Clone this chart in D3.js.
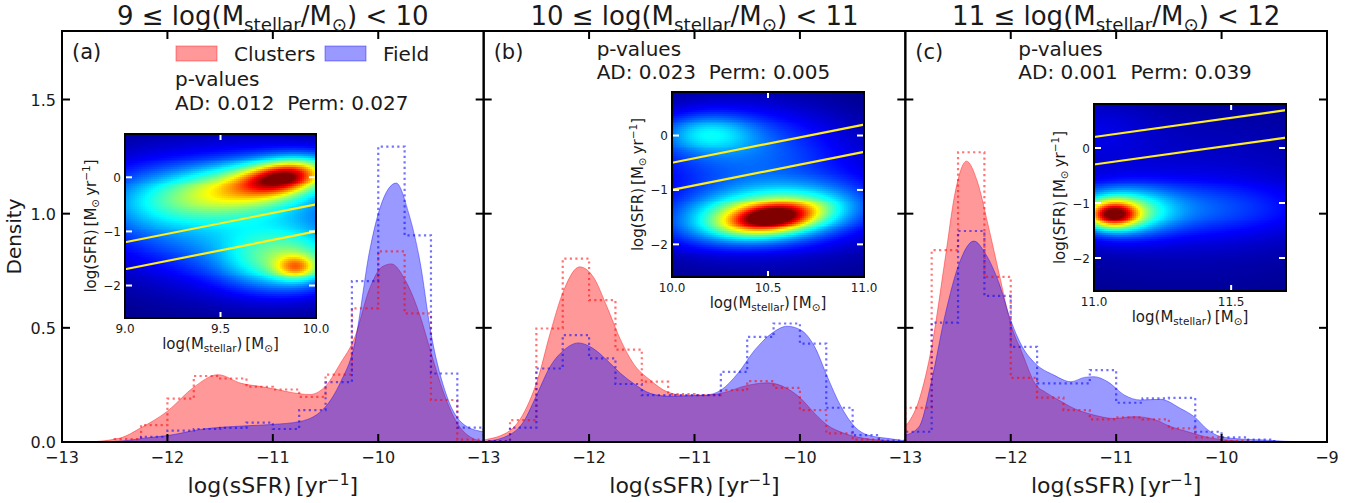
<!DOCTYPE html>
<html>
<head>
<meta charset="utf-8">
<script src="https://cdn.jsdelivr.net/npm/d3@7"></script>
<style>
  body { margin: 0; background: #fff; }
  text { font-family: "DejaVu Sans", sans-serif; fill: #1a1a1a; }
</style>
</head>
<body>
<svg id="chart" width="1365" height="503"></svg>
<script>
// ---------- data ----------
const panelLetters = ["(a)", "(b)", "(c)"];
const massBinLow = [9, 10, 11];
const massBinHigh = [10, 11, 12];
const pValueAD = ["0.012", "0.023", "0.001"];
const pValuePerm = ["0.027", "0.005", "0.039"];
const seriesNames = ["Clusters", "Field"];
const seriesColors = ["red", "blue"];

const sSFRDomain = [-13, -9];
const densityDomain = [0, 1.8];
const sSFRTicks = [-13, -12, -11, -10, -9];
const densityTicks = [0, 0.5, 1.0, 1.5];

// normalised histograms, 0.25 dex bins starting at log sSFR = -13
const histStart = -13, histStep = 0.25;
const histClustersA = [0, 0, 0.013, 0.074, 0.19, 0.289, 0.278, 0.242, 0.23, 0.198, 0.295, 0.585, 0.835, 0.563, 0.184, 0.01];
const histFieldA    = [0, 0, 0, 0.023, 0.05, 0.057, 0.062, 0.085, 0.057, 0.14, 0.262, 0.705, 1.294, 0.905, 0.30, 0.063];
const histClustersB = [0.004, 0.096, 0.497, 0.803, 0.621, 0.405, 0.264, 0.21, 0.205, 0.227, 0.267, 0.237, 0.14, 0.038, 0.01, 0];
const histFieldB    = [0.004, 0.063, 0.322, 0.468, 0.366, 0.254, 0.205, 0.205, 0.205, 0.307, 0.46, 0.519, 0.431, 0.15, 0.03, 0.006];
const histClustersC = [0.15, 0.84, 1.269, 0.723, 0.281, 0.194, 0.14, 0.099, 0.108, 0.099, 0.06, 0.02, 0.005, 0, 0, 0];
const histFieldC    = [0.045, 0.523, 0.924, 0.64, 0.417, 0.257, 0.257, 0.315, 0.172, 0.191, 0.193, 0.045, 0.02, 0.01, 0, 0];

// kernel density estimates [log sSFR, density]
const kdeClustersA = [[-12.75,0],[-12.45,0.017],[-12.26,0.06],[-12.0,0.135],[-11.75,0.24],[-11.52,0.295],[-11.3,0.257],[-11.1,0.242],[-10.96,0.23],[-10.8,0.215],[-10.65,0.208],[-10.49,0.25],[-10.36,0.344],[-10.23,0.45],[-10.075,0.68],[-9.965,0.767],[-9.875,0.78],[-9.743,0.708],[-9.6,0.548],[-9.505,0.40],[-9.378,0.213],[-9.25,0.082],[-9.12,0.02],[-9.0,0.003]];
const kdeFieldA    = [[-12.6,0],[-12.4,0.006],[-12.2,0.018],[-12.0,0.028],[-11.69,0.055],[-11.25,0.071],[-11.0,0.077],[-10.74,0.09],[-10.49,0.16],[-10.36,0.26],[-10.23,0.417],[-10.075,0.854],[-9.98,1.03],[-9.83,1.134],[-9.71,1.0],[-9.6,0.78],[-9.505,0.49],[-9.347,0.198],[-9.157,0.067],[-9.0,0.045]];
const kdeClustersB = [[-13,0.009],[-12.75,0.05],[-12.59,0.154],[-12.49,0.271],[-12.37,0.475],[-12.24,0.665],[-12.09,0.767],[-11.96,0.723],[-11.83,0.592],[-11.70,0.446],[-11.58,0.344],[-11.42,0.271],[-11.26,0.22],[-11.1,0.205],[-10.9,0.205],[-10.75,0.213],[-10.49,0.249],[-10.30,0.259],[-10.12,0.234],[-9.99,0.19],[-9.86,0.125],[-9.74,0.074],[-9.58,0.038],[-9.39,0.016],[-9.17,0.006],[-9.0,0.002]];
const kdeFieldB    = [[-13,0.002],[-12.81,0.02],[-12.62,0.09],[-12.49,0.213],[-12.37,0.33],[-12.24,0.402],[-12.10,0.434],[-11.96,0.409],[-11.83,0.358],[-11.70,0.3],[-11.58,0.257],[-11.42,0.213],[-11.26,0.201],[-11.1,0.202],[-10.9,0.205],[-10.75,0.227],[-10.59,0.30],[-10.43,0.402],[-10.27,0.475],[-10.12,0.507],[-9.99,0.49],[-9.86,0.417],[-9.74,0.286],[-9.61,0.155],[-9.48,0.067],[-9.36,0.031],[-9.17,0.016],[-9.0,0.005]];
const kdeClustersC = [[-13,0.067],[-12.87,0.184],[-12.75,0.417],[-12.62,0.81],[-12.53,1.087],[-12.42,1.23],[-12.32,1.145],[-12.21,0.941],[-12.11,0.737],[-12.0,0.518],[-11.89,0.388],[-11.77,0.256],[-11.66,0.215],[-11.55,0.185],[-11.40,0.147],[-11.21,0.118],[-11.02,0.103],[-10.83,0.111],[-10.64,0.099],[-10.48,0.067],[-10.32,0.045],[-10.13,0.02],[-9.94,0.008],[-9.7,0.002],[-9.0,0]];
const kdeFieldC    = [[-13,0.03],[-12.87,0.067],[-12.75,0.271],[-12.62,0.562],[-12.49,0.781],[-12.35,0.88],[-12.24,0.825],[-12.11,0.694],[-12.0,0.533],[-11.89,0.417],[-11.77,0.345],[-11.59,0.293],[-11.43,0.264],[-11.30,0.283],[-11.21,0.286],[-11.08,0.264],[-10.92,0.205],[-10.77,0.184],[-10.58,0.187],[-10.39,0.147],[-10.26,0.111],[-10.13,0.053],[-10.01,0.024],[-9.82,0.013],[-9.56,0.008],[-9.4,0.003],[-9.0,0]];

// inset: smoothed log M* - log SFR plane
const insetMassRange = [[9.0, 10.0], [10.0, 11.0], [11.0, 11.7]];
const insetMassTicks = [[9.0, 9.5, 10.0], [10.0, 10.5, 11.0], [11.0, 11.5]];
const insetSfrRange = [-2.6, 0.8];
const insetSfrTicks = [0, -1, -2];
const msSlope = 0.7;
const msIntercepts = [-7.5, -8.0];
// Gaussian components: [log M*, log SFR, sigma M, sigma SFR, correlation, weight]
const densityA = [
  [9.84, 0.03, 0.14, 0.21, 0.3, 0.55],
  [9.65, -0.15, 0.31, 0.34, 0.4, 0.42],
  [9.60, -0.75, 0.48, 0.85, 0.0, 0.30],
  [9.10, -0.40, 0.25, 0.50, 0.0, 0.12],
  [9.90, -1.65, 0.075, 0.15, 0.0, 0.33],
  [9.85, -1.55, 0.22, 0.38, 0.0, 0.33]
];
const densityB = [
  [10.52, -1.50, 0.15, 0.18, 0.3, 0.58],
  [10.50, -1.45, 0.30, 0.33, 0.25, 0.48],
  [10.50, -1.20, 0.50, 0.80, 0.0, 0.15],
  [10.18, 0.05, 0.17, 0.24, 0.0, 0.20],
  [10.35, -0.10, 0.38, 0.55, 0.0, 0.16]
];
const densityC = [
  [11.07, -1.20, 0.06, 0.16, 0.0, 0.60],
  [11.10, -1.15, 0.12, 0.28, 0.0, 0.33],
  [11.30, -1.10, 0.32, 0.35, 0.0, 0.15],
  [11.35, -0.80, 0.50, 1.20, 0.0, 0.08],
  [11.00, 0.35, 0.15, 0.40, 0.0, 0.06]
];

const hists = [[histClustersA, histFieldA], [histClustersB, histFieldB], [histClustersC, histFieldC]];
const kdes = [[kdeClustersA, kdeFieldA], [kdeClustersB, kdeFieldB], [kdeClustersC, kdeFieldC]];
const densities = [densityA, densityB, densityC];

// ---------- layout ----------
const plotLeft = 62, plotRight = 1327, plotTop = 31, plotBottom = 442;
const panelW = (plotRight - plotLeft) / 3;
const insetBoxes = [
  { x: 125, y: 134, w: 191, h: 184 },
  { x: 672, y: 92, w: 192, h: 185 },
  { x: 1094, y: 104, w: 192, h: 187 }
];
const gridN = 96;

const svg = d3.select("#chart");
const defs = svg.append("defs");

// matplotlib-style "jet" colour map
function jet(t) {
  const c = v => Math.max(0, Math.min(1, v));
  const r = c(Math.min(4 * t - 1.5, -4 * t + 4.5));
  const g = c(Math.min(4 * t - 0.5, -4 * t + 3.5));
  const b = c(Math.min(4 * t + 0.5, -4 * t + 2.5));
  return d3.rgb(r * 255, g * 255, b * 255).toString();
}
const heatColor = d3.scaleSequential(jet).domain([0, 1]).clamp(true);

function mixtureDensity(comps, m, s) {
  let v = 0;
  for (const [cx, cy, sx, sy, r, a] of comps) {
    const u = (m - cx) / sx, w = (s - cy) / sy;
    const q = (u * u - 2 * r * u * w + w * w) / (1 - r * r);
    v += a * Math.exp(-0.5 * q);
  }
  return v;
}

// text with sub/superscripts: parts = [[string, shift]] shift -1 sub, +1 sup
function richText(g, parts, size, attrs) {
  const t = g.append("text").attr("font-size", size);
  for (const k in attrs) t.attr(k, attrs[k]);
  let cur = 0;
  parts.forEach(([str, mode]) => {
    const fs = mode === 0 ? size : size * 0.7;
    const off = mode === -1 ? size * 0.22 : mode === 1 ? -size * 0.38 : 0;
    t.append("tspan").attr("font-size", fs).attr("dy", off - cur).text(str);
    cur = off;
  });
  return t;
}

const fmt1 = d3.format(".1f");
const fmtInt = d3.format("d");

const y = d3.scaleLinear().domain(densityDomain).range([plotBottom, plotTop]);

for (let k = 0; k < 3; k++) {
  const left = plotLeft + k * panelW;
  const x = d3.scaleLinear().domain(sSFRDomain).range([left, left + panelW]);
  const g = svg.append("g");

  const clipId = "clip" + k;
  defs.append("clipPath").attr("id", clipId)
    .append("rect").attr("x", left).attr("y", plotTop).attr("width", panelW).attr("height", plotBottom - plotTop);
  const plot = g.append("g").attr("clip-path", `url(#${clipId})`);

  // KDE fills: clusters first, field over it
  const area = d3.area().x(d => x(d[0])).y0(y(0)).y1(d => y(d[1])).curve(d3.curveMonotoneX);
  kdes[k].forEach((pts, i) => {
    plot.append("path").datum(pts).attr("d", area)
      .attr("fill", seriesColors[i]).attr("fill-opacity", 0.4)
      .attr("stroke", seriesColors[i]).attr("stroke-opacity", 0.4).attr("stroke-width", 1);
  });

  // dotted step histograms
  const line = d3.line().x(d => x(d[0])).y(d => y(d[1]));
  hists[k].forEach((h, i) => {
    const pts = [[histStart, 0]];
    h.forEach((v, j) => {
      const e0 = histStart + j * histStep, e1 = e0 + histStep;
      pts.push([e0, v], [e1, v]);
    });
    pts.push([histStart + h.length * histStep, 0]);
    plot.append("path").datum(pts).attr("d", line)
      .attr("fill", "none").attr("stroke", seriesColors[i]).attr("stroke-opacity", 0.55)
      .attr("stroke-width", 2.2).attr("stroke-dasharray", "2.2 3.3");
  });

  // ticks (inward, all four sides)
  const tickG = g.append("g").attr("stroke", "#000").attr("stroke-width", 2);
  sSFRTicks.filter(t => t > sSFRDomain[0] && t < sSFRDomain[1]).forEach(t => {
    tickG.append("line").attr("x1", x(t)).attr("x2", x(t)).attr("y1", plotBottom).attr("y2", plotBottom - 8);
    tickG.append("line").attr("x1", x(t)).attr("x2", x(t)).attr("y1", plotTop).attr("y2", plotTop + 8);
  });
  densityTicks.filter(t => t > densityDomain[0]).forEach(t => {
    tickG.append("line").attr("x1", left).attr("x2", left + 8).attr("y1", y(t)).attr("y2", y(t));
    tickG.append("line").attr("x1", left + panelW).attr("x2", left + panelW - 8).attr("y1", y(t)).attr("y2", y(t));
  });

  // frame
  g.append("rect").attr("x", left).attr("y", plotTop).attr("width", panelW).attr("height", plotBottom - plotTop)
    .attr("fill", "none").attr("stroke", "#000").attr("stroke-width", 2);

  // x tick labels
  sSFRTicks.filter(t => k === 2 || t < sSFRDomain[1]).forEach(t => {
    g.append("text").attr("x", x(t)).attr("y", plotBottom + 21).attr("text-anchor", "middle")
      .attr("font-size", 16).text(fmtInt(t));
  });
  // y tick labels on first panel
  if (k === 0) {
    densityTicks.forEach(t => {
      g.append("text").attr("x", left - 6).attr("y", y(t) + 6).attr("text-anchor", "end")
        .attr("font-size", 16).text(fmt1(t));
    });
    g.append("text").attr("transform", `translate(21,${(plotTop + plotBottom) / 2}) rotate(-90)`)
      .attr("text-anchor", "middle").attr("font-size", 20).text("Density");
  }

  // x axis label
  richText(g, [["log(sSFR)\u2009[yr", 0], ["\u22121", 1], ["]", 0]], 22,
    { x: left + panelW / 2, y: 493, "text-anchor": "middle" });

  // title
  richText(g, [[`${massBinLow[k]} \u2264 log(M`, 0], ["stellar", -1], ["/M", 0], ["\u2299", -1], [`) < ${massBinHigh[k]}`, 0]], 26,
    { x: left + panelW / 2, y: 25, "text-anchor": "middle" });

  // panel letter
  g.append("text").attr("x", left + 10).attr("y", 59).attr("font-size", 21).text(panelLetters[k]);

  // legend + p-values
  if (k === 0) {
    const lx = [176, 325];
    seriesNames.forEach((nm, i) => {
      g.append("rect").attr("x", lx[i]).attr("y", 46).attr("width", 41).attr("height", 15)
        .attr("fill", seriesColors[i]).attr("fill-opacity", 0.4)
        .attr("stroke", seriesColors[i]).attr("stroke-opacity", 0.4);
      g.append("text").attr("x", lx[i] + 58).attr("y", 61).attr("font-size", 20).text(nm);
    });
  }
  const px = k === 0 ? 175 : left + 113;
  g.append("text").attr("x", px).attr("y", k === 0 ? 86 : 56).attr("font-size", 20).text("p-values");
  g.append("text").attr("x", px).attr("y", k === 0 ? 110 : 79).attr("font-size", 20)
    .attr("xml:space", "preserve").style("white-space", "pre")
    .text(`AD: ${pValueAD[k]}  Perm: ${pValuePerm[k]}`);

  // ---------- inset ----------
  const box = insetBoxes[k];
  const mx = d3.scaleLinear().domain(insetMassRange[k]).range([box.x, box.x + box.w]);
  const sy = d3.scaleLinear().domain(insetSfrRange).range([box.y + box.h, box.y]);
  const ig = g.append("g");
  const [m0, m1] = insetMassRange[k];
  const [s0, s1] = insetSfrRange;
  const dm = (m1 - m0) / gridN, ds = (s1 - s0) / gridN;
  const cells = [];
  for (let i = 0; i < gridN; i++) {
    for (let j = 0; j < gridN; j++) {
      const m = m0 + (i + 0.5) * dm, s = s0 + (j + 0.5) * ds;
      cells.push({ m: m0 + i * dm, s: s0 + (j + 1) * ds, v: mixtureDensity(densities[k], m, s) });
    }
  }
  const cw = mx(m0 + dm) - mx(m0), ch = sy(s0) - sy(s0 + ds);
  ig.append("g").attr("shape-rendering", "crispEdges").selectAll("rect").data(cells).join("rect")
    .attr("x", d => mx(d.m)).attr("y", d => sy(d.s))
    .attr("width", cw + 0.6).attr("height", ch + 0.6)
    .attr("fill", d => heatColor(d.v));

  // main-sequence boundary lines
  const msLine = d3.line().x(d => mx(d[0])).y(d => sy(d[1]));
  msIntercepts.forEach(b => {
    ig.append("path").datum([[m0, msSlope * m0 + b], [m1, msSlope * m1 + b]]).attr("d", msLine)
      .attr("stroke", "#ffee1a").attr("stroke-width", 2.2).attr("fill", "none");
  });

  // white inward ticks
  const it = ig.append("g").attr("stroke", "#fff").attr("stroke-width", 2);
  insetMassTicks[k].filter(t => t > m0 + 1e-9 && t < m1 - 1e-9).forEach(t => {
    it.append("line").attr("x1", mx(t)).attr("x2", mx(t)).attr("y1", box.y + box.h).attr("y2", box.y + box.h - 6);
    it.append("line").attr("x1", mx(t)).attr("x2", mx(t)).attr("y1", box.y).attr("y2", box.y + 6);
  });
  insetSfrTicks.forEach(t => {
    it.append("line").attr("x1", box.x).attr("x2", box.x + 7).attr("y1", sy(t)).attr("y2", sy(t));
    it.append("line").attr("x1", box.x + box.w).attr("x2", box.x + box.w - 7).attr("y1", sy(t)).attr("y2", sy(t));
  });
  ig.append("rect").attr("x", box.x).attr("y", box.y).attr("width", box.w).attr("height", box.h)
    .attr("fill", "none").attr("stroke", "#000").attr("stroke-width", 2);

  insetMassTicks[k].forEach(t => {
    ig.append("text").attr("x", mx(t)).attr("y", box.y + box.h + 15).attr("text-anchor", "middle")
      .attr("font-size", 12).text(fmt1(t));
  });
  insetSfrTicks.forEach(t => {
    ig.append("text").attr("x", box.x - 4).attr("y", sy(t) + 4.5).attr("text-anchor", "end")
      .attr("font-size", 12).text(fmtInt(t));
  });
  richText(ig, [["log(M", 0], ["stellar", -1], [")\u2009[M", 0], ["\u2299", -1], ["]", 0]], 15,
    { x: box.x + box.w / 2, y: box.y + box.h + 31, "text-anchor": "middle" });
  richText(ig, [["log(SFR)\u2009[M", 0], ["\u2299", -1], ["\u2009yr", 0], ["\u22121", 1], ["]", 0]], 15,
    { transform: `translate(${box.x - 29},${box.y + box.h / 2}) rotate(-90)`, "text-anchor": "middle" });
}
</script>
</body>
</html>
